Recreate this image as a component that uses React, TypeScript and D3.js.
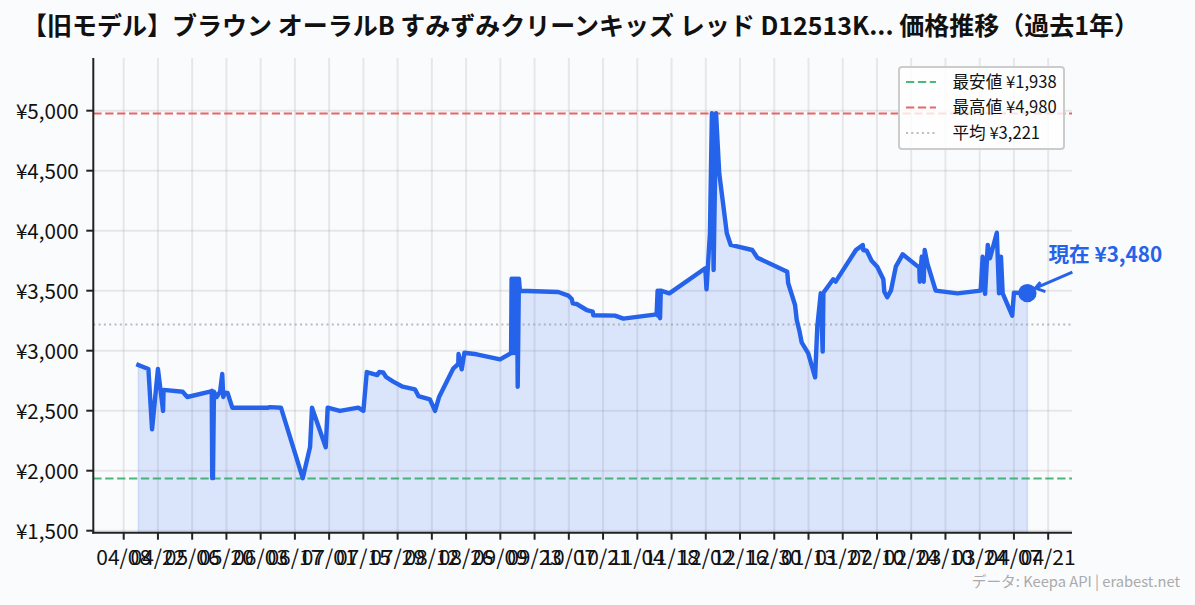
import { useEffect, useRef } from "react"
import * as d3 from "d3"

const titleText = "【旧モデル】ブラウン オーラルB すみずみクリーンキッズ レッド D12513K... 価格推移（過去1年）"
const footerText = "データ: Keepa API | erabest.net"

// days since the first tick (2024-04-08)
const startDate = new Date(2024, 3, 8)
const priceDays = [
  6.0, 10.1, 11.6, 14.0, 16.1, 16.3, 24.1, 26.0, 35.3, 36.0, 36.2, 36.5, 36.9, 38.0, 39.4, 40.3, 40.7, 41.4, 42.5,
  44.4, 59.1, 59.8, 64.3, 73.2, 76.2, 77.0, 82.6, 83.4, 88.4, 95.9, 98.0, 99.4, 103.7, 104.5, 106.1, 107.3, 110.2,
  114.1, 119.1, 120.5, 125.2, 127.3, 129.0, 134.8, 136.8, 136.9, 138.2, 139.3, 144.3, 153.9, 158.0, 158.4, 158.6,
  159.0, 159.4, 159.8, 160.2, 160.6, 160.8, 161.1, 161.6, 162.0, 177.7, 181.8, 183.2, 183.6, 185.2, 189.3, 191.8,
  192.0, 200.9, 204.3, 217.9, 218.3, 218.5, 218.9, 219.3, 219.6, 223.1, 237.8, 238.3, 239.7, 240.5, 241.2, 242.2,
  243.5, 246.6, 248.2, 257.0, 259.1, 271.3, 271.7, 274.5, 275.2, 276.2, 277.2, 279.9, 282.7, 283.6, 285.0, 285.8,
  286.1, 290.1, 291.1, 299.4, 302.2, 302.4, 303.8, 305.8, 308.1, 310.6, 311.0, 312.2, 313.7, 315.7, 318.5, 325.3,
  325.5, 326.3, 327.1, 327.5, 328.6, 332.0, 340.9, 350.4, 351.2, 352.2, 353.3, 354.2, 357.0, 357.9, 358.7, 359.4,
  363.3, 364.0, 369.5,
]
const priceValues = [
  2881, 2848, 2345, 2848, 2498, 2673, 2658, 2614, 2658, 2665, 1938, 1938, 2658, 2614, 2658, 2806, 2614, 2650, 2647,
  2525, 2525, 2530, 2525, 1938, 2197, 2525, 2195, 2525, 2498, 2525, 2498, 2822, 2797, 2822, 2818, 2781, 2742,
  2700, 2678, 2622, 2595, 2498, 2617, 2853, 2889, 2973, 2845, 2983, 2970, 2928, 2975, 2980, 3600,
  2980, 3600, 2980, 3600, 2980, 3600, 2700, 3600, 3500, 3489, 3459, 3431, 3395, 3389, 3339, 3325,
  3295, 3292, 3267, 3303, 3500, 3290, 3500, 3270, 3500, 3478, 3687, 3512, 3981, 4980, 3672, 4980,
  4478, 3978, 3881, 3839, 3775, 3658, 3562, 3381, 3256, 3173, 3070, 2978, 2778, 3200, 3478, 2992,
  3483, 3595, 3575, 3839, 3881, 3839, 3833, 3750, 3700, 3595, 3492, 3445, 3500, 3700, 3803, 3692,
  3575, 3783, 3575, 3839, 3728, 3500, 3478, 3500, 3783, 3473, 3881, 3770, 3983, 3478, 3783, 3478,
  3292, 3483, 3480,
]

const tickLabels = [
  "04/08", "04/22", "05/06", "05/20", "06/03", "06/17", "07/01", "07/15", "07/29", "08/12", "08/26", "09/09",
  "09/23", "10/07", "10/21", "11/04", "11/18", "12/02", "12/16", "12/30", "01/13", "01/27", "02/10", "02/24",
  "03/10", "03/24", "04/07", "04/21",
]
const priceTicks = [1500, 2000, 2500, 3000, 3500, 4000, 4500, 5000]

const minPrice = 1938
const maxPrice = 4980
const avgPrice = 3221
const currentPrice = 3480

const legendRows = [
  { label: "最安値 ¥1,938", color: "#22a55a", dash: "8.3,3.6", opacity: 0.8 },
  { label: "最高値 ¥4,980", color: "#e53e3e", dash: "8.3,3.6", opacity: 0.8 },
  { label: "平均 ¥3,221", color: "#9aa0ac", dash: "2,3.3", opacity: 0.7 },
]

const blue = "#2563eb"
const fontFamily = "'Noto Sans CJK JP', 'Noto Sans', sans-serif"
const yen = (v: number) => "¥" + d3.format(",")(v)

export default function App() {
  const svgRef = useRef<SVGSVGElement>(null)
  const width = 1195
  const height = 605

  useEffect(() => {
    if (!svgRef.current) return
    const svg = d3.select(svgRef.current)
    svg.selectAll("*").remove()

    const left = 93.3
    const right = 1072
    const top = 58
    const bottom = 532.7

    const dayToDate = (d: number) => d3.timeMinute.offset(startDate, Math.round(d * 1440))
    const tickDates = tickLabels.map((_, i) => d3.timeDay.offset(startDate, i * 14))

    // domain picked so the ticks land where the reference has them
    const x = d3
      .scaleTime()
      .domain([dayToDate((left - 123.7) / 2.4457), dayToDate((right - 123.7) / 2.4457)])
      .range([left, right])
    const y = d3.scaleLinear().domain([1483.3, 5395]).range([bottom, 63.28])

    const points = priceDays.map((d, i) => ({ date: dayToDate(d), price: priceValues[i] }))

    svg.append("rect").attr("width", width).attr("height", height).attr("fill", "#fafbfd")

    svg
      .append("text")
      .attr("x", 580.5)
      .attr("y", 35)
      .attr("text-anchor", "middle")
      .attr("font-size", 25)
      .attr("font-weight", 700)
      .attr("fill", "#111")
      .text(titleText)

    // Grid
    const grid = svg.append("g").attr("stroke", "#8a8a8a").attr("stroke-opacity", 0.17).attr("stroke-width", 2)
    grid
      .selectAll(".vgrid")
      .data(tickDates)
      .join("line")
      .attr("x1", (d) => x(d))
      .attr("x2", (d) => x(d))
      .attr("y1", top)
      .attr("y2", bottom)
    grid
      .selectAll(".hgrid")
      .data(priceTicks)
      .join("line")
      .attr("x1", left)
      .attr("x2", right)
      .attr("y1", (d) => y(d))
      .attr("y2", (d) => y(d))

    // Area and line
    const area = d3
      .area<any>()
      .x((d) => x(d.date))
      .y0(bottom)
      .y1((d) => y(d.price))
    svg
      .append("path")
      .datum(points)
      .attr("d", area)
      .attr("fill", blue)
      .attr("fill-opacity", 0.15)
      .attr("stroke", blue)
      .attr("stroke-opacity", 0.15)
      .attr("stroke-width", 1.5)

    // Reference lines
    const refs = [
      { value: minPrice, ...legendRows[0] },
      { value: maxPrice, ...legendRows[1] },
      { value: avgPrice, ...legendRows[2] },
    ]
    svg
      .selectAll(".ref")
      .data(refs)
      .join("line")
      .attr("x1", left)
      .attr("x2", right)
      .attr("y1", (d) => y(d.value) + 0.4)
      .attr("y2", (d) => y(d.value) + 0.4)
      .attr("stroke", (d) => d.color)
      .attr("stroke-opacity", (d) => d.opacity)
      .attr("stroke-width", 2)
      .attr("stroke-dasharray", (d) => d.dash)

    const line = d3
      .line<any>()
      .x((d) => x(d.date))
      .y((d) => y(d.price))
    svg
      .append("path")
      .datum(points)
      .attr("d", line)
      .attr("fill", "none")
      .attr("stroke", blue)
      .attr("stroke-width", 4.4)
      .attr("stroke-linejoin", "round")
      .attr("stroke-linecap", "square")

    // Current price marker and annotation
    const last = points[points.length - 1]
    const cx = x(last.date)
    const cy = y(currentPrice)
    svg.append("circle").attr("cx", cx).attr("cy", cy).attr("r", 9.2).attr("fill", blue)
    svg
      .append("path")
      .attr("d", `M${cx + 45},${cy - 21} L${cx + 8},${cy - 5} M${cx + 13},${cy - 11} L${cx + 8},${cy - 5} L${cx + 18},${cy - 1.5}`)
      .attr("fill", "none")
      .attr("stroke", blue)
      .attr("stroke-width", 3)
    svg
      .append("text")
      .attr("x", cx + 21)
      .attr("y", cy - 31.5)
      .attr("font-size", 20.7)
      .attr("font-weight", 700)
      .attr("fill", blue)
      .text("現在 " + yen(currentPrice))

    // Axes
    const axes = svg.append("g").attr("stroke", "#222").attr("stroke-width", 2)
    axes.append("line").attr("x1", left).attr("x2", left).attr("y1", top).attr("y2", bottom + 1)
    axes.append("line").attr("x1", left - 1).attr("x2", right).attr("y1", bottom).attr("y2", bottom)

    axes
      .selectAll(".xtick")
      .data(tickDates)
      .join("line")
      .attr("x1", (d) => x(d))
      .attr("x2", (d) => x(d))
      .attr("y1", bottom)
      .attr("y2", bottom + 7)
    axes
      .selectAll(".ytick")
      .data(priceTicks)
      .join("line")
      .attr("x1", left - 7)
      .attr("x2", left)
      .attr("y1", (d) => y(d))
      .attr("y2", (d) => y(d))

    svg
      .selectAll(".xlabel")
      .data(tickDates)
      .join("text")
      .attr("x", (d) => x(d))
      .attr("y", bottom + 32.5)
      .attr("text-anchor", "middle")
      .attr("font-size", 21)
      .attr("fill", "#111")
      .text((_, i) => tickLabels[i])
    svg
      .selectAll(".ylabel")
      .data(priceTicks)
      .join("text")
      .attr("x", left - 14.5)
      .attr("y", (d) => y(d) + 8.5)
      .attr("text-anchor", "end")
      .attr("font-size", 20.6)
      .attr("fill", "#111")
      .text((d) => yen(d))

    // Legend
    const legend = svg.append("g").attr("transform", "translate(899,67)")
    legend
      .append("rect")
      .attr("width", 165)
      .attr("height", 82)
      .attr("rx", 3)
      .attr("fill", "#fff")
      .attr("fill-opacity", 0.8)
      .attr("stroke", "#ccc")
      .attr("stroke-width", 2)
    const rows = legend
      .selectAll(".row")
      .data(legendRows)
      .join("g")
      .attr("transform", (_, i) => `translate(0,${15 + i * 25.5})`)
    rows
      .append("line")
      .attr("x1", 7)
      .attr("x2", 37)
      .attr("stroke", (d) => d.color)
      .attr("stroke-opacity", (d) => d.opacity)
      .attr("stroke-width", 2)
      .attr("stroke-dasharray", (d) => d.dash)
    rows
      .append("text")
      .attr("x", 53.5)
      .attr("y", 5.5)
      .attr("font-size", 16.6)
      .attr("fill", "#111")
      .text((d) => d.label)

    svg
      .append("text")
      .attr("x", 1180)
      .attr("y", 587)
      .attr("text-anchor", "end")
      .attr("font-size", 14.7)
      .attr("fill", "#aaa")
      .text(footerText)
  }, [])

  return (
    <svg
      ref={svgRef}
      width={width}
      height={height}
      style={{ position: "absolute", left: 0, top: 0, display: "block", fontFamily }}
    />
  )
}
